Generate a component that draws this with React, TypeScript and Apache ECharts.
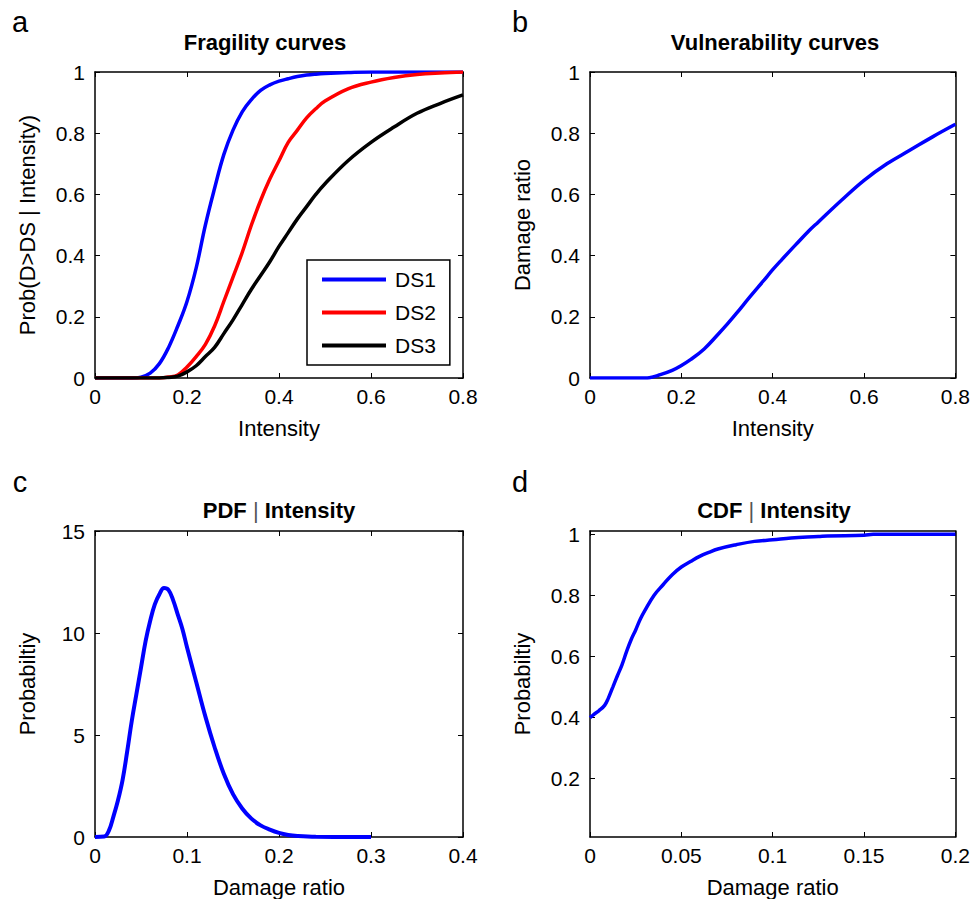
import React, { useEffect, useRef } from "react";
import * as echarts from "echarts";

const FONT = "'Liberation Sans', Arial, Helvetica, sans-serif";

// Panel a: fragility curves
const fragX = [0, 0.02, 0.04, 0.06, 0.08, 0.1, 0.12, 0.14, 0.16, 0.18, 0.2, 0.22, 0.24, 0.26, 0.28, 0.3, 0.32, 0.34, 0.36, 0.38, 0.4, 0.42, 0.44, 0.46, 0.48, 0.5, 0.55, 0.6, 0.65, 0.7, 0.75, 0.8];
const ds1 = [0, 0, 0, 0, 0, 0.003, 0.016, 0.047, 0.1, 0.17, 0.25, 0.36, 0.5, 0.62, 0.73, 0.81, 0.87, 0.91, 0.94, 0.958, 0.97, 0.978, 0.985, 0.99, 0.993, 0.995, 0.998, 1, 1, 1, 1, 1];
const ds2 = [0, 0, 0, 0, 0, 0, 0, 0, 0.003, 0.01, 0.036, 0.07, 0.11, 0.17, 0.25, 0.33, 0.41, 0.5, 0.58, 0.65, 0.71, 0.77, 0.81, 0.85, 0.88, 0.905, 0.945, 0.967, 0.982, 0.992, 0.997, 1];
const ds3 = [0, 0, 0, 0, 0, 0, 0, 0, 0.002, 0.006, 0.02, 0.04, 0.07, 0.1, 0.145, 0.19, 0.24, 0.29, 0.335, 0.38, 0.43, 0.475, 0.52, 0.56, 0.6, 0.635, 0.71, 0.77, 0.82, 0.865, 0.897, 0.925];
const dsNames = ["DS1", "DS2", "DS3"];
const dsColors = ["#0000ff", "#ff0000", "#000000"];

// Panel b: vulnerability curve
const vulX = [0, 0.05, 0.1, 0.12, 0.13, 0.15, 0.18, 0.2, 0.22, 0.25, 0.28, 0.3, 0.32, 0.35, 0.38, 0.4, 0.42, 0.45, 0.48, 0.5, 0.55, 0.6, 0.65, 0.7, 0.75, 0.8];
const vulY = [0, 0, 0, 0, 0.001, 0.009, 0.025, 0.041, 0.06, 0.095, 0.142, 0.175, 0.21, 0.265, 0.318, 0.354, 0.387, 0.435, 0.482, 0.51, 0.58, 0.646, 0.7, 0.744, 0.788, 0.829];

// Panel c: PDF | Intensity
const pdfX = [0, 0.01, 0.015, 0.02, 0.025, 0.03, 0.035, 0.04, 0.045, 0.05, 0.055, 0.06, 0.065, 0.07, 0.075, 0.08, 0.085, 0.09, 0.095, 0.1, 0.11, 0.12, 0.13, 0.14, 0.15, 0.16, 0.17, 0.18, 0.19, 0.2, 0.21, 0.22, 0.24, 0.3];
const pdfY = [0, 0.02, 0.3, 1.0, 1.8, 2.8, 4.2, 5.7, 7.0, 8.3, 9.6, 10.6, 11.4, 11.9, 12.2, 12.1, 11.6, 10.9, 10.2, 9.3, 7.6, 5.9, 4.4, 3.1, 2.1, 1.4, 0.9, 0.57, 0.36, 0.2, 0.1, 0.05, 0.01, 0];

// Panel d: CDF | Intensity
const cdfX = [0, 0.002, 0.005, 0.008, 0.01, 0.0125, 0.015, 0.0175, 0.02, 0.0225, 0.025, 0.0275, 0.03, 0.035, 0.04, 0.045, 0.05, 0.055, 0.06, 0.065, 0.07, 0.08, 0.09, 0.1, 0.11, 0.125, 0.13, 0.15, 0.155, 0.2];
const cdfY = [0.4, 0.41, 0.423, 0.44, 0.463, 0.5, 0.537, 0.573, 0.616, 0.655, 0.687, 0.722, 0.75, 0.8, 0.835, 0.868, 0.893, 0.911, 0.928, 0.941, 0.952, 0.966, 0.977, 0.982, 0.988, 0.993, 0.995, 0.997, 1.0, 1.0];
const cdfTicks = [0.2, 0.4, 0.6, 0.8, 1];

const panelLetters = ["a", "b", "c", "d"];
const titles = ["{b|Fragility curves}", "{b|Vulnerability curves}", "{b|PDF}{n| | }{b|Intensity}", "{b|CDF}{n| | }{b|Intensity}"];
const xNames = ["Intensity", "Intensity", "Damage ratio", "Damage ratio"];
const yNames = ["Prob(D>DS | Intensity)", "Damage ratio", "Probabiltiy", "Probabiltiy"];

const pairs = (xs: number[], ys: number[]) => xs.map((x, i) => [x, ys[i]]);

export default function App() {
  const ref = useRef<HTMLDivElement>(null);
  useEffect(() => {
    if (!ref.current) return;
    const chart = echarts.init(ref.current, null, { renderer: "svg" });

    const grids = [
      { left: 95, top: 72, width: 368, height: 306 },
      { left: 590, top: 72, width: 369, height: 306 },
      { left: 95, top: 531, width: 368, height: 306 },
      { left: 590, top: 531, width: 369, height: 306 },
    ];
    const xr = [
      { min: 0, max: 0.8, interval: 0.2 },
      { min: 0, max: 0.8, interval: 0.2 },
      { min: 0, max: 0.4, interval: 0.1 },
      { min: 0, max: 0.2, interval: 0.05 },
    ];
    const yr: any[] = [
      { min: 0, max: 1, interval: 0.2 },
      { min: 0, max: 1, interval: 0.2 },
      { min: 0, max: 15, interval: 5 },
      { min: 0.009, max: 1.011 },
    ];

    const tick = { show: true, inside: true, length: 5, lineStyle: { color: "#000", width: 1 } };
    const base = (g: number) => ({
      type: "value",
      gridIndex: g,
      splitLine: { show: false },
      axisLine: { show: true, onZero: false, lineStyle: { color: "#000", width: 1.5 } },
      axisTick: tick,
    });
    const labelStyle = { fontSize: 21, color: "#000", fontFamily: FONT };
    const nameStyle = { fontSize: 22, color: "#000", fontFamily: FONT };

    const xAxis: any[] = [];
    const yAxis: any[] = [];
    for (let g = 0; g < 4; g++) {
      xAxis.push({
        ...base(g), ...xr[g], position: "bottom",
        name: xNames[g], nameLocation: "middle", nameGap: 39, nameTextStyle: nameStyle,
        axisLabel: { ...labelStyle, margin: 8 },
      });
    }
    for (let g = 0; g < 4; g++) {
      xAxis.push({ ...base(g), ...xr[g], position: "top", axisLabel: { show: false } });
    }
    for (let g = 0; g < 4; g++) {
      const custom = g === 3 ? { customValues: cdfTicks } : {};
      yAxis.push({
        ...base(g), ...yr[g], position: "left",
        name: yNames[g], nameLocation: "middle", nameGap: 57, nameTextStyle: nameStyle,
        axisLabel: { ...labelStyle, margin: 10, ...custom },
        axisTick: { ...tick, ...custom },
      });
    }
    for (let g = 0; g < 4; g++) {
      const custom = g === 3 ? { customValues: cdfTicks } : {};
      yAxis.push({
        ...base(g), ...yr[g], position: "right",
        axisLabel: { show: false },
        axisTick: { ...tick, ...custom },
      });
    }

    const lineSeries = (name: string, data: number[][], idx: number, color: string, width = 3.5) => ({
      type: "line",
      name,
      data,
      xAxisIndex: idx,
      yAxisIndex: idx,
      symbol: "none",
      showSymbol: false,
      smooth: 0.4,
      lineStyle: { color, width },
      itemStyle: { color },
      z: 3,
    });

    const series: any[] = [
      lineSeries(dsNames[0], pairs(fragX, ds1), 0, dsColors[0]),
      lineSeries(dsNames[1], pairs(fragX, ds2), 0, dsColors[1]),
      lineSeries(dsNames[2], pairs(fragX, ds3), 0, dsColors[2]),
      lineSeries("Vulnerability", pairs(vulX, vulY), 1, "#0000ff"),
      lineSeries("PDF", pairs(pdfX, pdfY), 2, "#0000ff", 4),
      lineSeries("CDF", pairs(cdfX, cdfY), 3, "#0000ff"),
    ];

    const letterPos = [[20, 22], [520, 22], [20, 482], [520, 482]];
    const titlePos = [[265, 42], [775, 42], [279, 510], [774, 510]];
    const graphic: any[] = [];
    for (let i = 0; i < 4; i++) {
      graphic.push({
        type: "text", x: letterPos[i][0], y: letterPos[i][1],
        style: { text: panelLetters[i], fontSize: 29, fontFamily: FONT, fill: "#000", align: "center", verticalAlign: "middle" },
      });
      graphic.push({
        type: "text", x: titlePos[i][0], y: titlePos[i][1],
        style: {
          text: titles[i], fontSize: 22, fontFamily: FONT, fill: "#000", align: "center", verticalAlign: "middle",
          rich: {
            b: { fontSize: 22, fontWeight: "bold", fontFamily: FONT, fill: "#000" },
            n: { fontSize: 22, fontWeight: "normal", fontFamily: FONT, fill: "#555" },
          },
        },
      });
    }

    chart.setOption({
      animation: false,
      backgroundColor: "#fff",
      grid: grids,
      xAxis,
      yAxis,
      series,
      legend: {
        data: dsNames,
        orient: "vertical",
        left: 307,
        top: 260,
        icon: "rect",
        backgroundColor: "#fff",
        borderColor: "#000",
        borderWidth: 1.5,
        borderRadius: 0,
        padding: [9, 14, 9, 15],
        itemWidth: 64,
        itemHeight: 4,
        itemGap: 12,
        textStyle: { fontSize: 21, color: "#000", fontFamily: FONT, lineHeight: 20, padding: [0, 0, 0, 4] },
      },
      graphic,
    });
    return () => chart.dispose();
  }, []);
  return <div ref={ref} style={{ position: "absolute", left: 0, top: 0, width: 973, height: 899 }} />;
}
